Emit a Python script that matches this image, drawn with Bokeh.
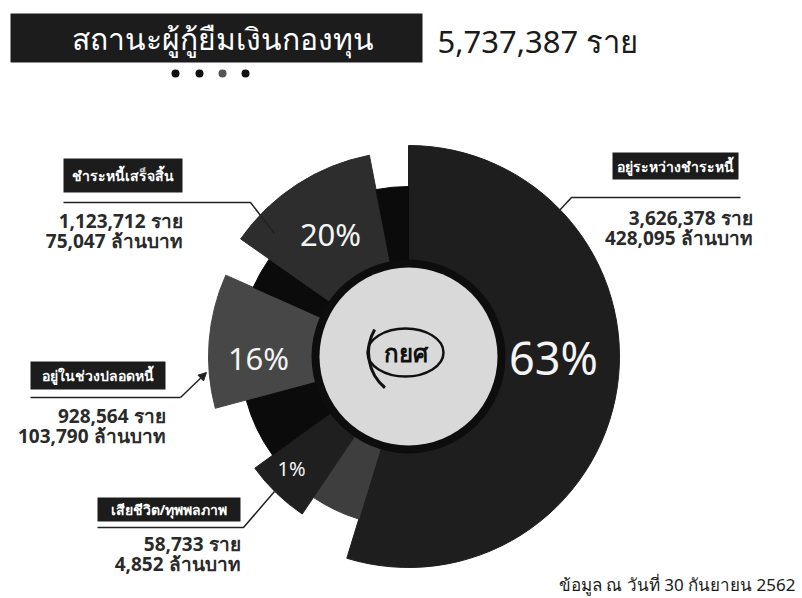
import math
from bokeh.plotting import figure
from bokeh.models import Range1d, ColumnDataSource, Arrow, NormalHead
from bokeh.core.properties import value
from bokeh.embed import file_html
from bokeh.resources import INLINE

# ---------------- data ----------------
status = ["อยู่ระหว่างชำระหนี้", "ชำระหนี้เสร็จสิ้น", "อยู่ในช่วงปลอดหนี้", "เสียชีวิต/ทุพพลภาพ"]
borrowers = [3626378, 1123712, 928564, 58733]
amount_mb = [428095, 75047, 103790, 4852]
share_pct = [63, 20, 16, 1]

# slices as they appear in the infographic, clockwise from 12 o'clock
segment_status = [0, None, 3, None, 2, None, 1, None]
segment_arc_deg = [197, 17, 20, 21, 39, 11, 44, 11]

title = "สถานะผู้กู้ยืมเงินกองทุน"
unit_person = "ราย"
unit_money = "ล้านบาท"
footnote = "ข้อมูล ณ วันที่ 30 กันยายน 2562"
logo_text = "กยศ"

# ---------------- layout / style ----------------
FONT = "Noto Sans"
W, H = 800, 596


def Y(y):
    return 598 - y


p = figure(width=W, height=H, x_range=Range1d(0, W), y_range=Range1d(598 - H, 598),
           output_backend="svg", toolbar_location=None, min_border=0)
p.axis.visible = False
p.grid.visible = False
p.outline_line_color = None
p.background_fill_color = "white"
p.border_fill_color = "white"

cx, cy = 408, Y(356)
seg_outer = [211, 170, 190, 168, 200, 170, 205, 170]
seg_color = ["#1e1e1e", "#3e3e3e", "#1f1f1f", "#0b0b0b", "#474747", "#0b0b0b", "#2d2d2d", "#0b0b0b"]

starts, ends = [], []
b = 0.0
for arc in segment_arc_deg:
    starts.append(math.radians(90 - b))
    b += arc
    ends.append(math.radians(90 - b))

src = ColumnDataSource(dict(x=[cx] * len(starts), y=[cy] * len(starts), start=starts, end=ends,
                            outer=seg_outer, color=seg_color))
p.annular_wedge(x="x", y="y", inner_radius=90, outer_radius="outer", start_angle="start",
                end_angle="end", direction="clock", fill_color="color", line_color="color",
                line_width=1, source=src)

# center ring and disc
p.circle(x=[cx], y=[cy], radius=97, fill_color="#0d0d0d", line_color=None)
p.circle(x=[cx], y=[cy], radius=89, fill_color="#d9d9d9", line_color=None)

# logo
p.ellipse(x=[cx - 3], y=[cy + 4], width=76, height=48, fill_color=None, line_color="#111",
          line_width=2.5)
p.arc(x=[cx + 6], y=[cy + 4], radius=46, start_angle=math.radians(150), end_angle=math.radians(230),
      line_color="#111", line_width=3)
p.text(x=[cx - 3], y=[cy + 4], text=[logo_text], text_align="center", text_baseline="middle",
       text_font=value(FONT), text_font_size="24px", text_font_style="bold", text_color="#111")

# percent labels
pct_pos = {0: (553, 357, "45px"), 1: (330, 233, "31px"), 2: (258, 357, "31px"), 3: (291, 468, "20px")}
for i, v in enumerate(share_pct):
    x0, y0, fs = pct_pos[i]
    p.text(x=[x0], y=[Y(y0)], text=[f"{v}%"], text_align="center", text_baseline="middle",
           text_font=value(FONT), text_font_size=fs, text_color="#f4f4f4")

# title block
p.quad(left=[10], right=[422], top=[Y(13)], bottom=[Y(62)], fill_color="#1c1c1c", line_color=None)
p.text(x=[222], y=[Y(38)], text=[title], text_align="center", text_baseline="middle",
       text_font=value(FONT), text_font_size="30px", text_color="white")
total = sum(borrowers)
p.text(x=[437], y=[Y(40)], text=[f"{total:,} {unit_person}"], text_align="left",
       text_baseline="middle", text_font=value(FONT), text_font_size="31px", text_color="#1a1a1a")
p.scatter(x=[175, 199, 222, 245], y=[Y(73)] * 4, size=8,
          fill_color=["#111", "#111", "#555", "#111"], line_color=None)

# category callouts
callout = {
    0: dict(box=(612, 152, 738, 179), under=[(740, 197), (571, 197), (558, 211)], vx=752, vy=(217, 237), arrow=False),
    1: dict(box=(63, 158, 182, 192), under=[(63, 202), (250, 202), (274, 233)], vx=182, vy=(220, 240), arrow=False),
    2: dict(box=(30, 361, 165, 389), under=[(30, 397), (180, 397), (206, 372)], vx=165, vy=(415, 435), arrow=True),
    3: dict(box=(97, 497, 240, 521), under=[(97, 527), (243, 527), (274, 491)], vx=240, vy=(543, 563), arrow=False),
}
for i, name in enumerate(status):
    c = callout[i]
    l, t, r, bt = c["box"]
    p.quad(left=[l], right=[r], top=[Y(t)], bottom=[Y(bt)], fill_color="#1c1c1c", line_color=None)
    p.text(x=[(l + r) / 2], y=[Y((t + bt) / 2)], text=[name], text_align="center",
           text_baseline="middle", text_font=value(FONT), text_font_size="14px",
           text_font_style="bold", text_color="white")
    pts = c["under"]
    if c["arrow"]:
        p.line(x=[q[0] for q in pts[:2]], y=[Y(q[1]) for q in pts[:2]], line_color="#222", line_width=1.5)
        p.add_layout(Arrow(x_start=pts[1][0], y_start=Y(pts[1][1]), x_end=pts[2][0], y_end=Y(pts[2][1]),
                           line_color="#222", line_width=1.5,
                           end=NormalHead(size=8, fill_color="#222", line_color="#222")))
    else:
        p.line(x=[q[0] for q in pts], y=[Y(q[1]) for q in pts], line_color="#222", line_width=1.5)
    p.text(x=[c["vx"], c["vx"]], y=[Y(c["vy"][0]), Y(c["vy"][1])],
           text=[f"{borrowers[i]:,} {unit_person}", f"{amount_mb[i]:,} {unit_money}"],
           text_align="right", text_baseline="middle", text_font=value(FONT),
           text_font_size="19px", text_font_style="bold", text_color="#2a2a2a")

p.text(x=[795], y=[Y(584)], text=[footnote], text_align="right", text_baseline="middle",
       text_font=value(FONT), text_font_size="17px", text_color="#1a1a1a")

open("out.html", "w").write(file_html(p, INLINE))
